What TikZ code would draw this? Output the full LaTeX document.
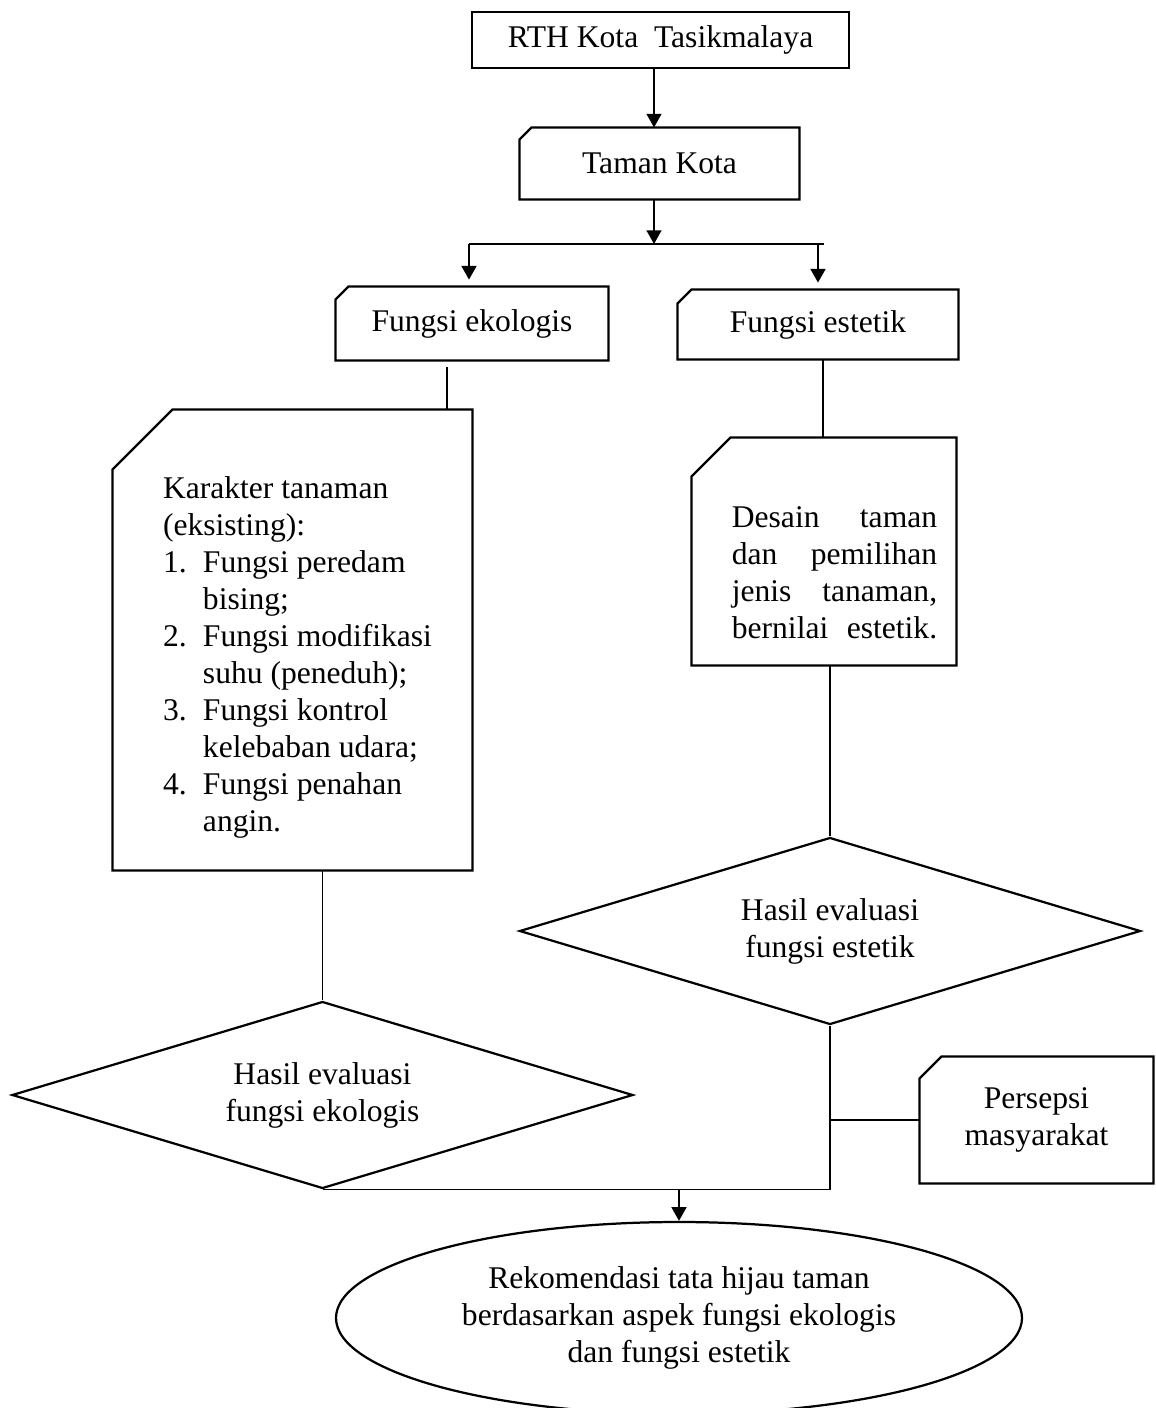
\documentclass[tikz,border=0pt]{standalone}
\usepackage{fontspec}
\setmainfont{Liberation Serif}
\usepackage{tikz}
\usetikzlibrary{calc,shapes.geometric,arrows.meta}

\newcommand{\pxu}{0.38pt}
\newcommand{\cutcorner}[2]{%
\draw[boxline] ($(#1.north west)+(0,#2)$)--($(#1.north west)+(#2,0)$)--(#1.north east)--(#1.south east)--(#1.south west)--cycle;}

\tikzset{
	every node/.style={font=\fontsize{12pt}{14.06pt}\selectfont},
	boxline/.style={line width=0.85pt},
	conn/.style={line width=0.5pt},
	arr/.style={line width=0.85pt,-{Triangle[width=5.6pt,length=5.2pt]}},
	card/.style 2 args={rectangle,inner sep=0pt,align=center,minimum width=#1*\pxu,minimum height=#2*\pxu},
	decide/.style={diamond,draw,line width=0.85pt,inner sep=0pt,aspect=3.3,align=center,minimum width=621*\pxu,minimum height=187*\pxu}
}

\begin{document}
\begin{tikzpicture}[x=0.38pt,y=-0.38pt]
\useasboundingbox (0,0) rectangle (1155,1408);

%top
\node[card={377}{56},draw,boxline] (rth) at (660.5,40) {RTH Kota~~Tasikmalaya};
\node[card={279}{71}] (taman) at (659.5,163.5) {Taman Kota};
\cutcorner{taman}{12}

\coordinate (split) at (654,244);
\coordinate (brL) at (469,244);
\coordinate (brR) at (824,244);

\draw[arr] (rth.south -| split)--(taman.north -| split);
\draw[arr] (taman.south -| split)--(split);
\draw[conn] (brL)--(brR);

%fungsi
\node[card={272}{73}] (eko) at (472,323.5) {Fungsi ekologis};
\cutcorner{eko}{13}
\node[card={280}{69}] (est) at (818,324.5) {Fungsi estetik};
\cutcorner{est}{14}

\draw[arr,shorten >=2.6pt] (brL)--(brL |- eko.north);
\draw[arr,shorten >=2.6pt] (est.north |- brR)--(est.north);

%left column
\node[card={359}{460}] (kar) at (292.5,640) {};
\cutcorner{kar}{60}
\node[align=left,anchor=west,inner sep=0pt] (karTxt) at ($(kar.west)+(50,17)$) {Karakter tanaman\\(eksisting):\\\makebox[15.2pt][l]{1.}Fungsi peredam\\\hspace*{15.2pt}bising;\\\makebox[15.2pt][l]{2.}Fungsi modifikasi\\\hspace*{15.2pt}suhu (peneduh);\\\makebox[15.2pt][l]{3.}Fungsi kontrol\\\hspace*{15.2pt}kelebaban udara;\\\makebox[15.2pt][l]{4.}Fungsi penahan\\\hspace*{15.2pt}angin.};

\coordinate (ekoOut) at (447,367);
\draw[conn] (ekoOut)--(ekoOut |- kar.north);

\node[decide] (dEko) at (322.5,1095) {Hasil evaluasi\\fungsi ekologis};
\draw[conn] (dEko.north |- kar.south)--(dEko.north);

%right column
\node[card={264}{227}] (des) at (824,551.5) {};
\cutcorner{des}{39}
\node[text width=78pt,align=left,inner sep=0pt] (desTxt) at ($(des.center)+(10.5,21.5)$) {Desain\hfill taman\\dan\hfill pemilihan\\jenis\hfill tanaman,\\bernilai\hfill estetik.};

\coordinate (estOut) at (823,359);
\draw[conn] (estOut)--(estOut |- des.north);

\node[decide] (dEst) at (830,931) {Hasil evaluasi\\fungsi estetik};
\draw[conn] (dEst.north |- des.south)--(dEst.north);

\node[card={233}{126}] (per) at (1036.5,1120) {Persepsi\\masyarakat};
\cutcorner{per}{22}

%merge
\coordinate (jn) at (dEst.south |- dEko.south);
\draw[conn] (dEst.south)--(jn);
\draw[conn] (per.west -| jn)--(per.west);
\draw[conn] (dEko.south)--(jn);

\node[ellipse,draw,line width=0.85pt,inner sep=0pt,align=center,minimum width=686*\pxu,minimum height=192*\pxu] (rek) at (679,1318) {Rekomendasi tata hijau taman\\berdasarkan aspek fungsi ekologis\\dan fungsi estetik};
\draw[arr] (rek.north |- jn)--(rek.north);

\end{tikzpicture}
\end{document}
